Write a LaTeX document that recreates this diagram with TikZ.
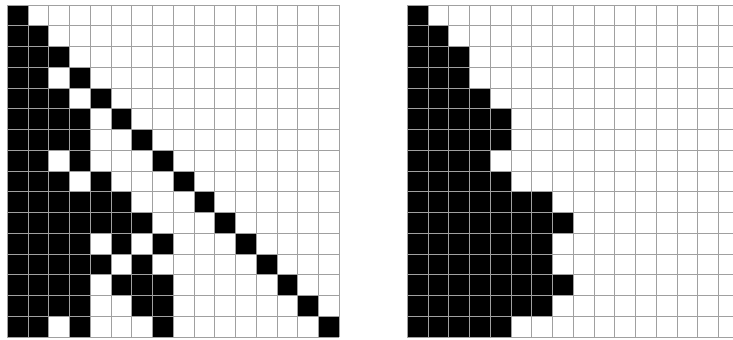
\documentclass[tikz,border=0pt]{standalone}
\usepackage{tikz}

\definecolor{gridgray}{RGB}{160,160,160}
\tikzset{
    cell/.style={fill=black},
    gridline/.style={draw=gridgray, line width=0.6pt, step=0.5cm}
}

\begin{document}
\begin{tikzpicture}[x=0.5cm,y=0.5cm]

% Frame
\clip (-0.352,-0.096) rectangle (34.97,16.241);

% Left grid: cells
\foreach \r/\cols in {0/{0}, 1/{0,1}, 2/{0,1,2}, 3/{0,1,3}, 4/{0,1,2,4},
    5/{0,1,2,3,5}, 6/{0,1,2,3,6}, 7/{0,1,3,7}, 8/{0,1,2,4,8},
    9/{0,1,2,3,4,5,9}, 10/{0,1,2,3,4,5,6,10}, 11/{0,1,2,3,5,7,11},
    12/{0,1,2,3,4,6,12}, 13/{0,1,2,3,5,6,7,13}, 14/{0,1,2,3,6,7,14},
    15/{0,1,3,7,15}}
  \foreach \c in \cols
    \fill[cell] (\c,15-\r) rectangle ++(1,1);

% Left grid: lines
\draw[gridline] (0,0) grid (16,16);

% Right grid
\begin{scope}[shift={(19.28,0)}]
  \foreach \r/\n in {0/1, 1/2, 2/3, 3/3, 4/4, 5/5, 6/5, 7/4, 8/5,
      9/7, 10/8, 11/7, 12/7, 13/8, 14/7, 15/5}
    \fill[cell] (0,15-\r) rectangle (\n,16-\r);
  \draw[gridline] (0,0) grid (16,16);
\end{scope}

\end{tikzpicture}
\end{document}
